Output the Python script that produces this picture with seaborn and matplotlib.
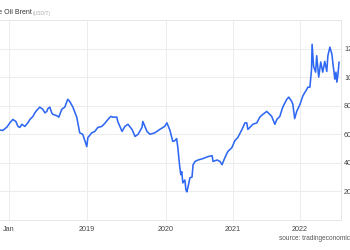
import numpy as np
import pandas as pd
import matplotlib
matplotlib.use("Agg")
import matplotlib.pyplot as plt
import matplotlib.dates as mdates
from matplotlib.scale import FuncScale
import seaborn as sns

# ---- data (Brent crude, USD/bbl) ----
dates = [
    "2017-11-20", "2017-12-03", "2017-12-22", "2018-01-05", "2018-01-19", "2018-02-02",
    "2018-02-12", "2018-02-21", "2018-03-02", "2018-03-16", "2018-03-30", "2018-04-09",
    "2018-04-23", "2018-05-02", "2018-05-11", "2018-05-25", "2018-06-08", "2018-06-18",
    "2018-06-27", "2018-07-02", "2018-07-11", "2018-07-20", "2018-07-25", "2018-08-13",
    "2018-08-22", "2018-09-05", "2018-09-19", "2018-10-03", "2018-10-12", "2018-10-27",
    "2018-11-14", "2018-11-28", "2018-12-12", "2018-12-21", "2018-12-31",
    "2019-01-05", "2019-01-23", "2019-02-06", "2019-02-20", "2019-03-10", "2019-03-24",
    "2019-04-08", "2019-04-21", "2019-05-01", "2019-05-19", "2019-05-23", "2019-06-12",
    "2019-06-25", "2019-07-09", "2019-07-28", "2019-08-11", "2019-08-25", "2019-09-12",
    "2019-09-16", "2019-10-05", "2019-10-19", "2019-11-10", "2019-12-03", "2019-12-26",
    "2020-01-06", "2020-01-22", "2020-02-07", "2020-02-18", "2020-02-28", "2020-03-05",
    "2020-03-16", "2020-03-22", "2020-03-27", "2020-04-02", "2020-04-13", "2020-04-19",
    "2020-04-24", "2020-04-30", "2020-05-11", "2020-05-22", "2020-05-28", "2020-06-08",
    "2020-06-24", "2020-07-21", "2020-08-18", "2020-09-09", "2020-09-14", "2020-10-06",
    "2020-10-22", "2020-11-02", "2020-11-18", "2020-12-04", "2020-12-26",
    "2021-01-11", "2021-01-27", "2021-02-19", "2021-03-07", "2021-03-17", "2021-03-23",
    "2021-04-03", "2021-04-19", "2021-05-11", "2021-05-27", "2021-06-13", "2021-07-04",
    "2021-07-20", "2021-07-31", "2021-08-17", "2021-08-28", "2021-09-13", "2021-09-29",
    "2021-10-21", "2021-11-01", "2021-11-17", "2021-11-23", "2021-12-03", "2021-12-14",
    "2022-01-01", "2022-01-17", "2022-02-07", "2022-02-13", "2022-02-24", "2022-03-05",
    "2022-03-08", "2022-03-16", "2022-03-27", "2022-04-02", "2022-04-13", "2022-04-24",
    "2022-05-05", "2022-05-16", "2022-05-27", "2022-06-02", "2022-06-13", "2022-06-24",
    "2022-06-30", "2022-07-10", "2022-07-16", "2022-07-21", "2022-07-27", "2022-08-02",
]
prices = [
    63.0, 62.7, 65.0, 68.0, 70.4, 69.0,
    65.5, 64.8, 67.0, 65.5, 68.0, 70.4,
    72.5, 75.0, 76.8, 79.0, 77.5, 75.0,
    76.0, 78.0, 79.0, 75.0, 74.0, 73.0,
    72.0, 77.5, 79.0, 84.5, 83.0, 79.0,
    72.0, 61.0, 60.0, 56.0, 51.4,
    57.7, 61.0, 62.0, 64.8, 65.5, 67.6,
    70.4, 72.5, 72.0, 72.0, 69.0, 62.0,
    65.5, 67.0, 63.4, 58.5, 60.0, 64.8,
    69.0, 62.0, 60.0, 61.0, 63.4, 65.5,
    68.0, 63.0, 55.0, 55.5, 57.0, 51.4,
    37.3, 31.7, 33.8, 26.0, 28.0, 21.0,
    19.7, 23.0, 29.6, 30.0, 38.7, 41.0,
    42.0, 43.0, 44.4, 45.0, 41.0, 42.0,
    41.0, 38.7, 43.7, 48.0, 50.7,
    55.5, 57.7, 63.4, 68.0, 68.0, 63.4,
    64.8, 67.0, 68.0, 72.0, 74.0, 76.0,
    74.0, 72.5, 67.0, 70.4, 72.5, 79.0,
    84.5, 86.0, 83.0, 81.0, 71.0, 76.0,
    81.0, 87.0, 91.5, 93.0, 93.0, 105.6,
    123.0, 107.7, 103.5, 115.0, 100.0, 110.6,
    103.5, 111.0, 104.0, 115.0, 121.0, 116.0,
    109.0, 98.6, 103.5, 96.5, 102.0, 110.6,
]
tick_dates = ["2018-01-01", "2019-01-01", "2020-01-01", "2021-01-01", "2022-01-01"]
tick_labels = ["Jan", "2019", "2020", "2021", "2022"]
y_ticks = [20, 40, 60, 80, 100, 120]

df = pd.DataFrame({"date": pd.to_datetime(dates), "price": prices})

# ---- non-uniform time axis of the source chart (piecewise linear) ----
brk_dates = ["2010-01-01", "2018-01-01", "2019-01-01", "2020-01-01",
             "2021-01-01", "2022-01-01", "2030-01-01"]
brk_num = mdates.date2num(pd.to_datetime(brk_dates))
brk_px = np.array([9 - 8 * 78, 9, 87, 166, 233, 300, 300 + 8 * 67], dtype=float)

def fwd(x):
    return np.interp(x, brk_num, brk_px)

def inv(p):
    return np.interp(p, brk_px, brk_num)

sns.set_theme(style="white")
plt.rcParams["font.family"] = ["Liberation Sans", "DejaVu Sans"]

fig = plt.figure(figsize=(3.5, 2.5), dpi=100)
ax = fig.add_axes([0.0, 0.12, 341 / 350, 0.80])

sns.lineplot(data=df, x="date", y="price", ax=ax, color="#2f68f2",
             linewidth=1.15, estimator=None, sort=False)

ax.set_xscale(FuncScale(ax, (fwd, inv)))
ax.set_xlim(inv(0.0), inv(341.0))
ax.set_ylim(0, 140)

ax.set_xticks(mdates.date2num(pd.to_datetime(tick_dates)))
ax.set_xticklabels(tick_labels)
ax.set_yticks(y_ticks)
ax.set_yticklabels([str(v) for v in y_ticks])
ax.yaxis.tick_right()
ax.tick_params(axis="both", length=0, labelsize=5.2, colors="#444444")
ax.tick_params(axis="x", pad=4)
ax.tick_params(axis="y", pad=2.2)
ax.set_xlabel("")
ax.set_ylabel("")

ax.grid(True, color="#ececec", linewidth=0.7)
ax.set_axisbelow(True)
for side in ["top", "bottom", "right"]:
    ax.spines[side].set_color("#e6e6e6")
    ax.spines[side].set_linewidth(0.7)
ax.spines["left"].set_visible(False)

fig.text(32 / 350, 1 - 13 / 250, "Crude Oil Brent", ha="right", va="center",
         fontsize=5.0, color="#333333")
fig.text(33 / 350, 1 - 13.5 / 250, "(USD/T)", ha="left", va="center",
         fontsize=3.6, color="#aaaaaa")
fig.text(279 / 350, 1 - 238 / 250, "source: tradingeconomics.com", ha="left",
         va="center", fontsize=4.7, color="#555555")

fig.savefig("out.png", dpi=100)
